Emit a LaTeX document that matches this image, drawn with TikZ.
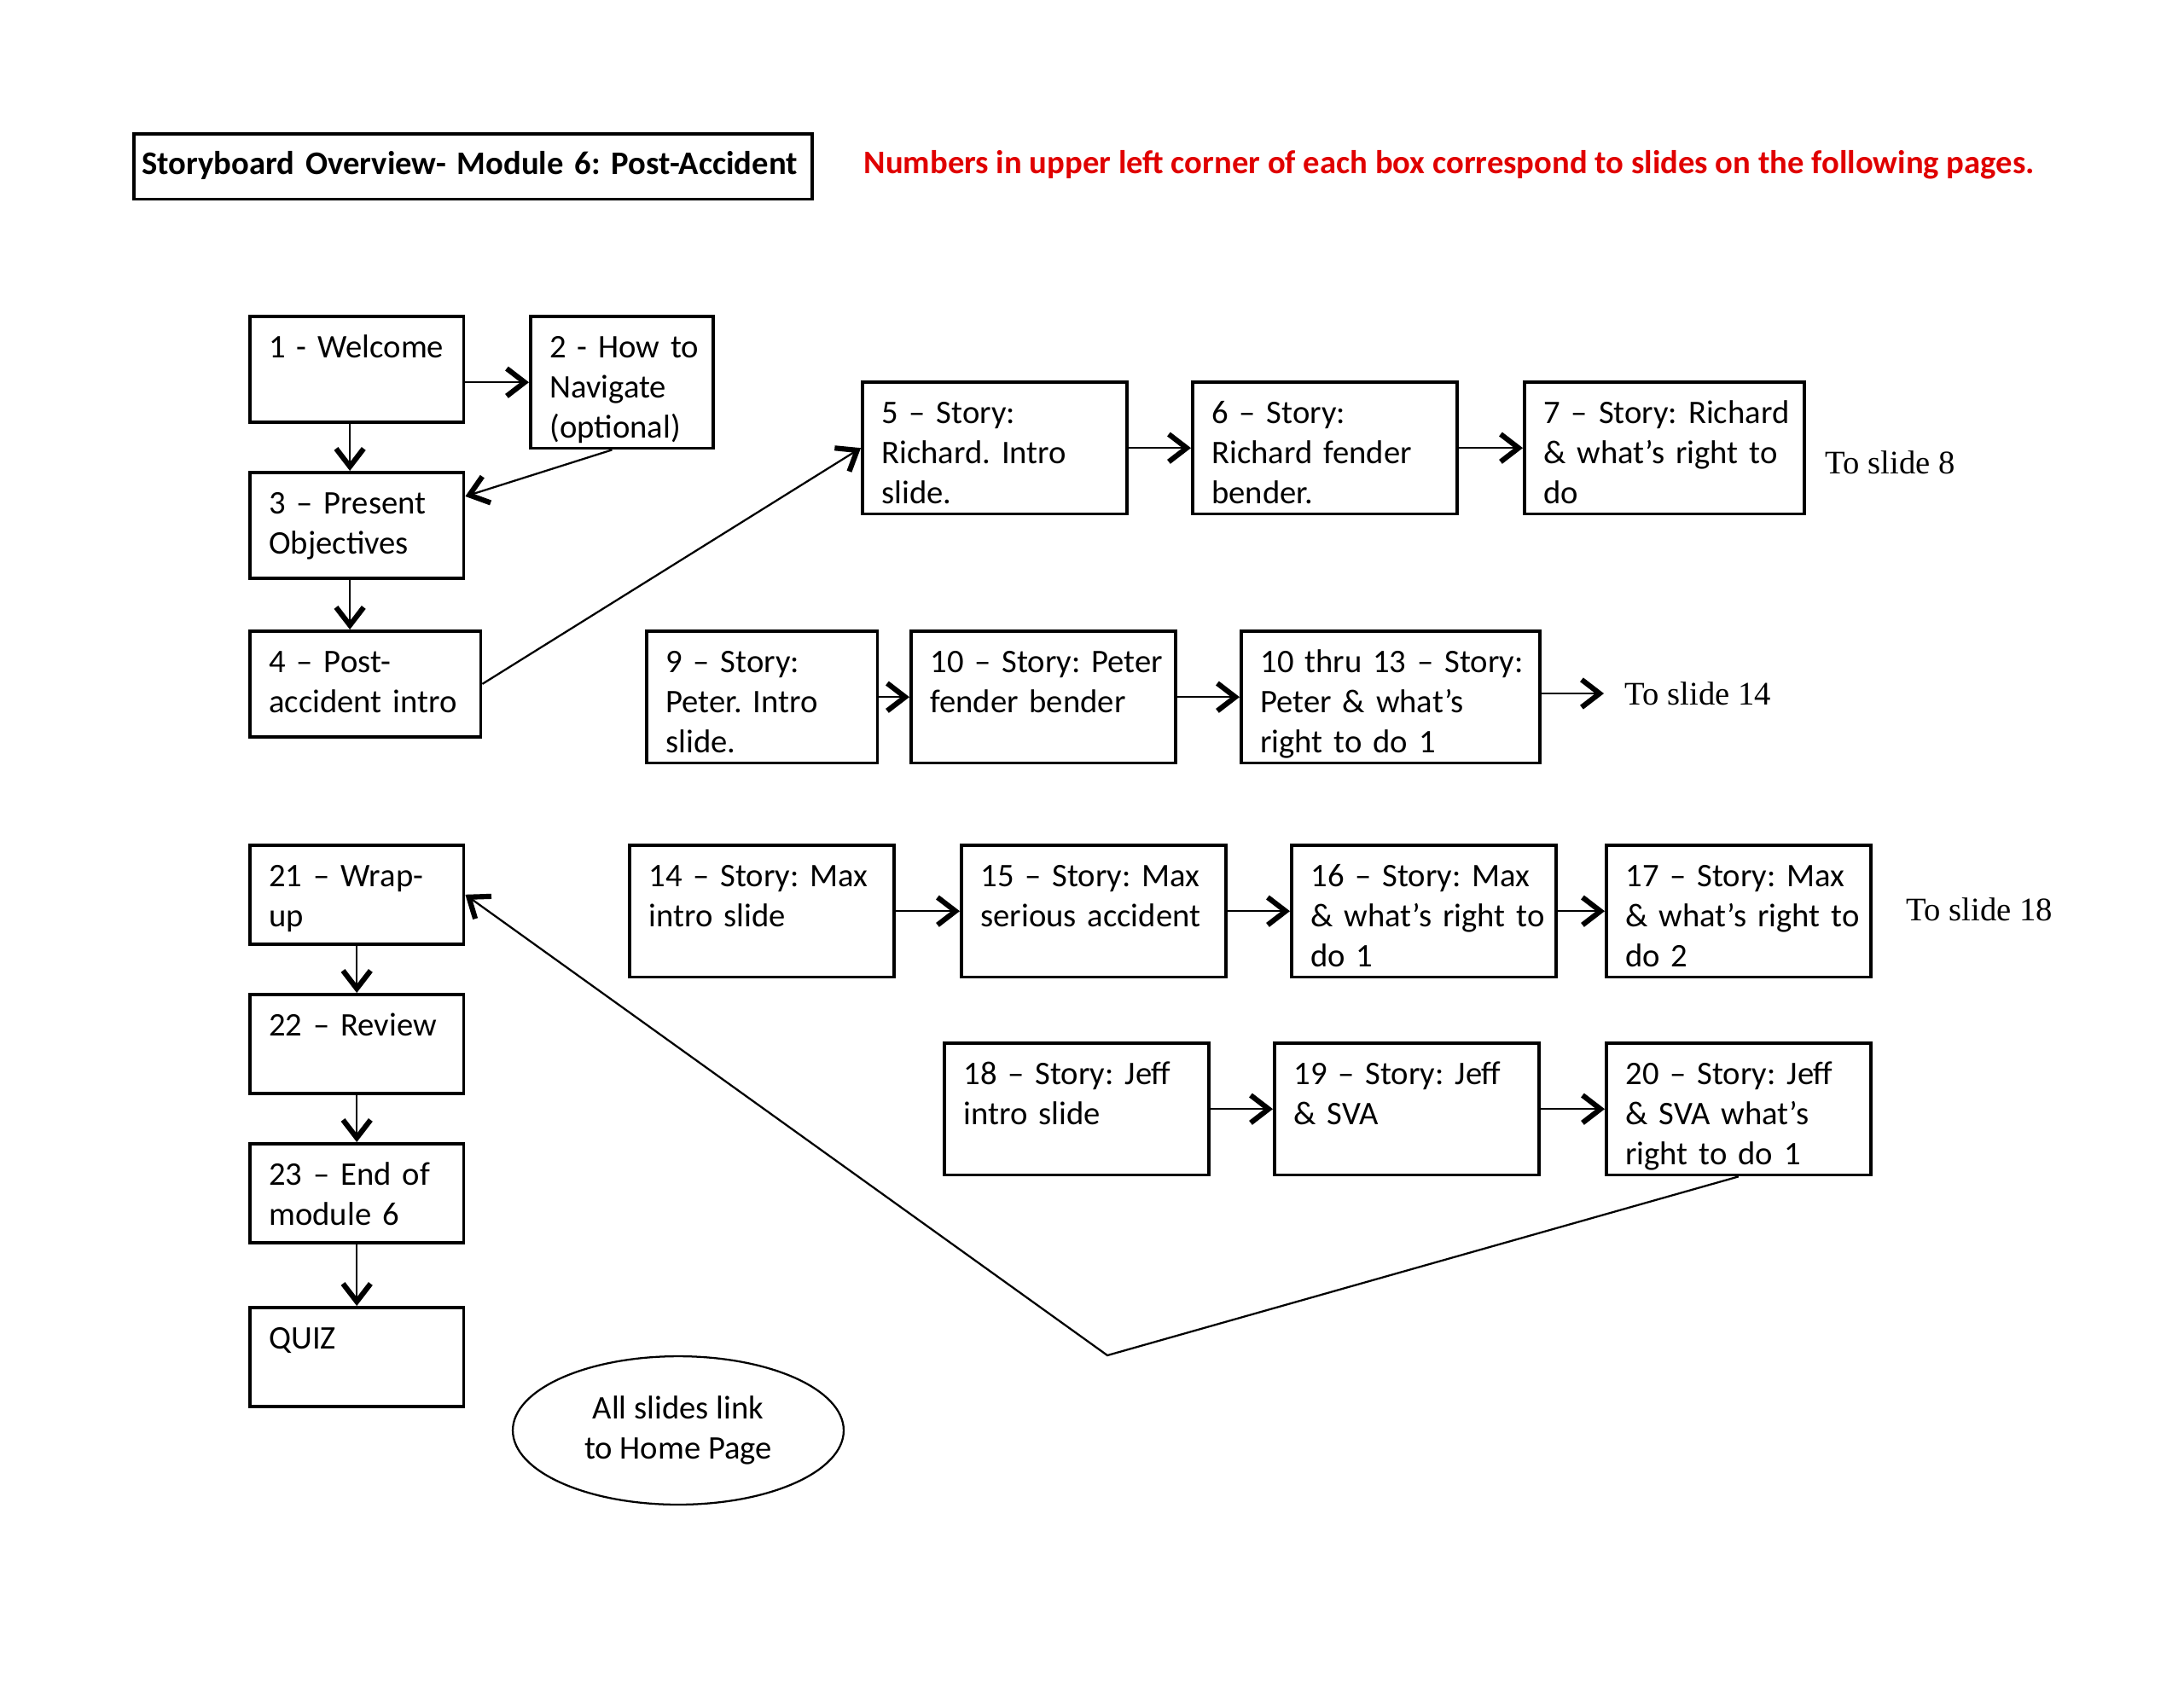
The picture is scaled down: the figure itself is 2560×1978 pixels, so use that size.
\documentclass[tikz,border=0pt]{standalone}
\usepackage{fontspec}
\setmainfont{Carlito}
\newfontfamily\timesfont{Liberation Serif}
\usetikzlibrary{arrows.meta,shapes.geometric}
\definecolor{notered}{HTML}{E00000}
\hyphenpenalty=10000

\begin{document}
\frenchspacing
\begin{tikzpicture}[x=0.309375bp, y=-0.309375bp,
      slide/.style={draw,line width=1.1bp,anchor=north west,align=left,
        font=\fontsize{12}{14.6}\selectfont,inner xsep=7bp,inner ysep=6bp,text height=9bp,
        execute at begin node={\rightskip=-8bp plus 1fil}},
      tall/.style={text depth=26.9bp},
      short/.style={text depth=17.4bp},
      low/.style={text depth=14.9bp},
      story/.style={slide,tall,text width=81.9bp},
      goto/.style={anchor=west,inner xsep=7.5bp,font=\timesfont\fontsize{12}{14.6}\selectfont},
      arr/.style={-{Straight Barb[length=6.5bp,width=10bp,line width=1.9bp]},line width=0.7bp}]
    \useasboundingbox (0,0) rectangle (2560,1978);

    % heading
    \node[draw,line width=1.1bp,anchor=north west,align=left,text width=240bp,inner xsep=3bp,
      inner ysep=5.9bp,text height=9bp,text depth=3bp,font=\bfseries\fontsize{12}{14.6}\selectfont]
      (title) at (155,155) {Storyboard Overview- Module 6: Post-Accident};
    \node[anchor=west,inner sep=0pt,text=notered,font=\bfseries\fontsize{12}{14.6}\selectfont]
      (note) at (1012,193) {Numbers in upper left corner of each box correspond to slides on the following pages.};

    % intro column
    \node[slide,short,text width=63.6bp] (s1) at (291,369) {1 - Welcome};
    \node[slide,tall,text width=52.2bp] (s2) at (620,369) {2 - How to\\Navigate\\(optional)};
    \node[slide,short,text width=63.6bp] (s3) at (291,552) {3 – Present\\Objectives};
    \node[slide,short,text width=69.8bp] (s4) at (291,738) {4 – Post-\\accident intro};

    % Richard
    \node[story] (s5) at (1009,446) {5 – Story:\\Richard. Intro\\slide.};
    \node[story] (s6) at (1396,446) {6 – Story:\\Richard fender\\bender.};
    \node[story,text width=87.5bp] (s7) at (1785,446) {7 – Story: Richard\\\& what’s right to\\do};
    \node[goto] (to8) at (2115,542) {To slide 8};

    % Peter
    \node[story,text width=69.8bp] (s9) at (756,738) {9 – Story:\\Peter. Intro\\slide.};
    \node[story] (s10) at (1066,738) {10 – Story: Peter\\fender bender};
    \node[story,text width=94.3bp] (s11) at (1453,738) {10 thru 13 – Story:\\Peter \& what’s\\right to do 1};
    \node[goto] (to14) at (1880,813) {To slide 14};

    % Max
    \node[story] (s14) at (736,989) {14 – Story: Max\\intro slide};
    \node[story] (s15) at (1125,989) {15 – Story: Max\\serious accident};
    \node[story] (s16) at (1512,989) {16 – Story: Max\\\& what’s right to\\do 1};
    \node[story] (s17) at (1881,989) {17 – Story: Max\\\& what’s right to\\do 2};
    \node[goto] (to18) at (2210,1066) {To slide 18};

    % Jeff
    \node[story] (s18) at (1105,1221) {18 – Story: Jeff\\intro slide};
    \node[story] (s19) at (1492,1221) {19 – Story: Jeff\\\& SVA};
    \node[story] (s20) at (1881,1221) {20 – Story: Jeff\\\& SVA what’s\\right to do 1};

    % closing column
    \node[slide,low,text width=63.6bp] (s21) at (291,989) {21 – Wrap-\\up};
    \node[slide,low,text width=63.6bp] (s22) at (291,1164) {22 – Review};
    \node[slide,low,text width=63.6bp] (s23) at (291,1339) {23 – End of\\module 6};
    \node[slide,low,text width=63.6bp] (quiz) at (291,1531) {QUIZ};

    \node[ellipse,draw,line width=0.7bp,minimum width=120bp,minimum height=53.8bp,align=center,
      font=\fontsize{12}{14.6}\selectfont] (home) at (795,1677) {All slides link\\to Home Page};

    \coordinate (dip) at (1298,1589);

    % connectors
    \draw[arr] (s1.east |- s2.west) -- (s2.west);
    \draw[arr] ([xshift=-2.5bp]s1.south) -- ([xshift=-2.5bp]s1.south |- s3.north);
    \draw[arr] ([xshift=-3.5bp]s2.south) -- ([yshift=10.5bp]s3.east);
    \draw[arr] ([xshift=-2.5bp]s3.south) -- ([xshift=-2.5bp]s3.south |- s4.north);
    \draw[arr] (s4.east) -- (s5.west);
    \draw[arr] (s5) -- (s6);
    \draw[arr] (s6) -- (s7);
    \draw[arr] (s9) -- (s10);
    \draw[arr] (s10) -- (s11);
    \draw[arr] (s11.east |- to14.west) -- (to14.west);
    \draw[arr] (s14) -- (s15);
    \draw[arr] (s15) -- (s16);
    \draw[arr] (s16) -- (s17);
    \draw[arr] (s18) -- (s19);
    \draw[arr] (s19) -- (s20);
    \draw[arr] (s20.south) -- (dip) -- (s21.east);
    \draw[arr] (s21) -- (s22);
    \draw[arr] (s22) -- (s23);
    \draw[arr] (s23) -- (quiz);
  \end{tikzpicture}
\end{document}
